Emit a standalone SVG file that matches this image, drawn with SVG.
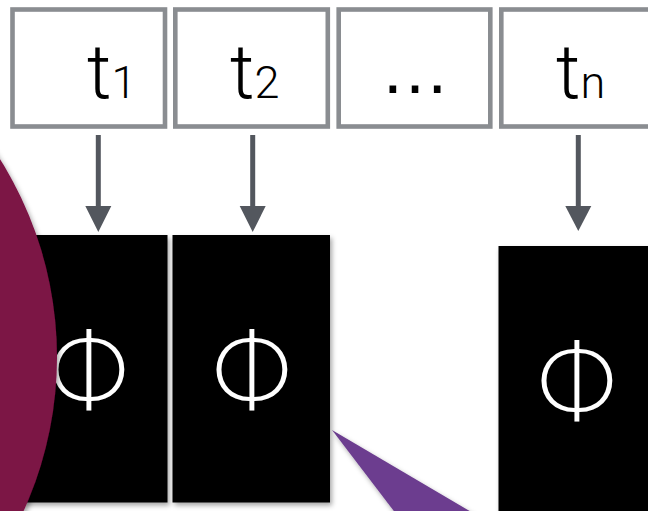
<svg xmlns="http://www.w3.org/2000/svg" width="648" height="511" viewBox="0 0 648 511">
<defs>
<style>
.box{fill:#fff;stroke:#8a8d91;stroke-width:4.6}
.t{font-family:Roboto,"Liberation Sans",sans-serif;font-weight:300;font-size:76px;fill:#000}
.sub{font-size:45px}
.blk{fill:#000;filter:url(#sh)}
.phi{font-family:Lato,"Liberation Sans",sans-serif;font-weight:300;font-size:98px;fill:#fff;text-anchor:middle}
.conn{stroke:#53575e;stroke-width:5;fill:none}
.head{fill:#53575e}
</style>
<filter id="sh" x="-10%" y="-10%" width="130%" height="130%">
<feDropShadow dx="2" dy="3" stdDeviation="2.5" flood-color="#000" flood-opacity="0.35"/>
</filter>
</defs>
<g id="token1">
<rect class="box" x="12.5" y="9.5" width="152.5" height="117"/>
<text class="t" x="87" y="98">t<tspan class="sub">1</tspan></text>
</g>
<g id="token2">
<rect class="box" x="175.3" y="9.5" width="152.5" height="117"/>
<text class="t" x="230" y="98">t<tspan class="sub">2</tspan></text>
</g>
<g id="token3">
<rect class="box" x="338.7" y="9.5" width="151.6" height="117"/>
<text x="415" y="93" font-family="'Liberation Sans',sans-serif" font-size="70" text-anchor="middle" fill="#000">…</text>
</g>
<g id="tokenN">
<rect class="box" x="501.3" y="9.5" width="160" height="117"/>
<text class="t" x="556" y="98">t<tspan class="sub">n</tspan></text>
</g>
<g id="connectors">
<line class="conn" x1="98.3" y1="135" x2="98.3" y2="208"/>
<polygon class="head" points="85.3,206 111.3,206 98.3,232"/>
<line class="conn" x1="252.7" y1="135" x2="252.7" y2="208"/>
<polygon class="head" points="239.7,206 265.7,206 252.7,232"/>
<line class="conn" x1="578.3" y1="135" x2="578.3" y2="208"/>
<polygon class="head" points="565.3,206 591.3,206 578.3,231"/>
</g>
<g id="phi1">
<rect class="blk" x="10" y="235" width="157.5" height="267.5"/>
<text class="phi" x="89" y="405">Φ</text>
</g>
<g id="phi2">
<rect class="blk" x="172.5" y="235" width="157.5" height="267.5"/>
<text class="phi" x="252" y="405">Φ</text>
</g>
<g id="phiN">
<rect class="blk" x="498.5" y="246" width="170" height="280"/>
<text class="phi" x="577" y="416">Φ</text>
</g>
<g id="wedge">
<polygon points="332,430 490,523 403,523" fill="#6c3d8f" filter="url(#sh)"/>
</g>
<g id="circle">
<circle cx="-315" cy="357" r="372" fill="#7c1244" filter="url(#sh)"/>
</g>
</svg>
